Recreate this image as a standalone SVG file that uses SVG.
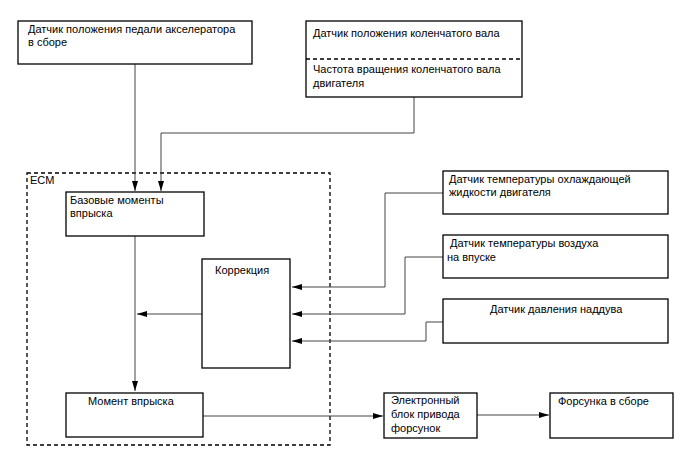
<svg xmlns="http://www.w3.org/2000/svg" width="688" height="463" viewBox="0 0 688 463">
<style>
text{font-family:"Liberation Sans",Arial,sans-serif;font-size:11px;fill:#000}
.box{fill:#fff;stroke:#000;stroke-width:1.3}
.ln{fill:none;stroke:#444;stroke-width:1}
.dash{fill:none;stroke:#000;stroke-width:1.3;stroke-dasharray:4,3}
</style>
<defs>
<marker id="ah" viewBox="0 0 10 6" refX="10" refY="3" markerWidth="10" markerHeight="6" markerUnits="userSpaceOnUse" orient="auto">
<path d="M0,0 L10,3 L0,6 Z" fill="#000"/>
</marker>
</defs>
<rect width="688" height="463" fill="#fff"/>
<g id="ecm">
<rect class="dash" x="27" y="173" width="303" height="272"/>
<text x="30" y="184">ECM</text>
</g>
<g id="connectors">
<path class="ln" d="M135,64 V191" marker-end="url(#ah)"/>
<path class="ln" d="M414,97 V133 H161 V191" marker-end="url(#ah)"/>
<path class="ln" d="M443,193 H385 V287 H292" marker-end="url(#ah)"/>
<path class="ln" d="M443,257 H405 V314 H292" marker-end="url(#ah)"/>
<path class="ln" d="M443,322 H426 V341 H292" marker-end="url(#ah)"/>
<path class="ln" d="M202,314 H137" marker-end="url(#ah)"/>
<path class="ln" d="M135,236 V391" marker-end="url(#ah)"/>
<path class="ln" d="M203,416 H383" marker-end="url(#ah)"/>
<path class="ln" d="M477,415 H549" marker-end="url(#ah)"/>
</g>
<g id="pedal">
<rect class="box" x="18" y="21" width="234" height="43"/>
<text x="28" y="33">Датчик положения педали акселератора</text>
<text x="28" y="46">в сборе</text>
</g>
<g id="crank">
<rect class="box" x="306" y="21" width="216" height="76"/>
<line class="dash" x1="306" y1="59" x2="522" y2="59" stroke-width="1"/>
<text x="313" y="37">Датчик положения коленчатого вала</text>
<text x="313" y="73">Частота вращения коленчатого вала</text>
<text x="313" y="87">двигателя</text>
</g>
<g id="base">
<rect class="box" x="66" y="192" width="138" height="44"/>
<text x="70" y="204">Базовые моменты</text>
<text x="70" y="217">впрыска</text>
</g>
<g id="correction">
<rect class="box" x="202" y="259" width="88" height="109"/>
<text x="215" y="274">Коррекция</text>
</g>
<g id="coolant">
<rect class="box" x="443" y="171" width="225" height="43"/>
<text x="449" y="183">Датчик температуры охлаждающей</text>
<text x="449" y="196">жидкости двигателя</text>
</g>
<g id="airtemp">
<rect class="box" x="443" y="235" width="225" height="43"/>
<text x="450" y="247">Датчик температуры воздуха</text>
<text x="447" y="261">на впуске</text>
</g>
<g id="boost">
<rect class="box" x="443" y="299" width="225" height="44"/>
<text x="490" y="313">Датчик давления наддува</text>
</g>
<g id="moment">
<rect class="box" x="66" y="393" width="137" height="44"/>
<text x="88" y="405">Момент впрыска</text>
</g>
<g id="driver">
<rect class="box" x="384" y="393" width="93" height="45"/>
<text x="391" y="404">Электронный</text>
<text x="391" y="418">блок привода</text>
<text x="391" y="432">форсунок</text>
</g>
<g id="injector">
<rect class="box" x="550" y="393" width="123" height="45"/>
<text x="558" y="405">Форсунка в сборе</text>
</g>
</svg>
